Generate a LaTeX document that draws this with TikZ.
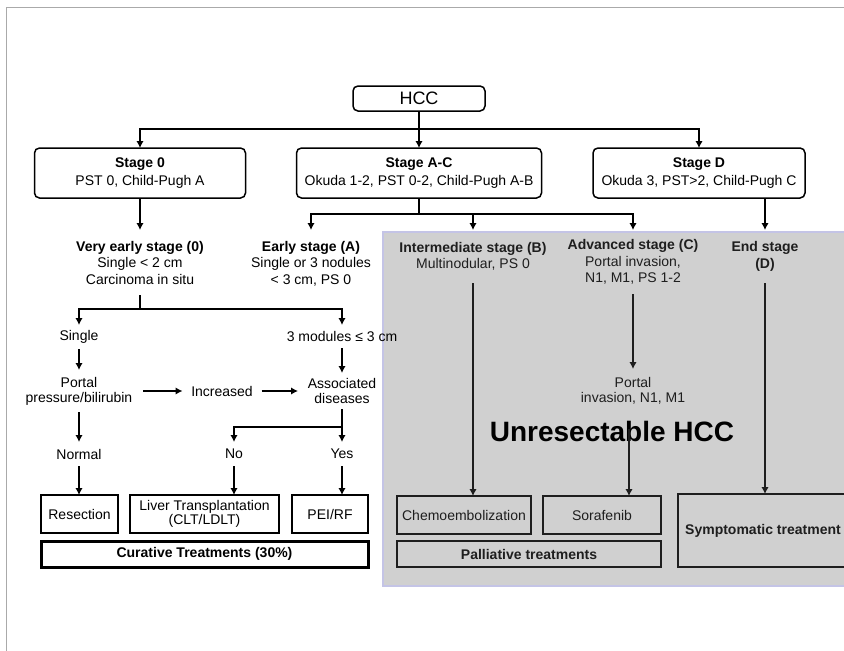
\documentclass[tikz,border=0pt]{standalone}
\usepackage{fontspec}
\setmainfont{Liberation Sans}
\usetikzlibrary{arrows.meta}
\definecolor{areagray}{HTML}{D0D0D0}
\definecolor{areaedge}{HTML}{C4C4E6}
\definecolor{dk}{HTML}{1E1E1E}
\definecolor{framegray}{HTML}{AAAAAA}
\begin{document}
\begin{tikzpicture}[x=1pt,y=-1pt,
  tx/.style={inner sep=0pt, outer sep=0pt, align=center, font=\fontsize{14}{16.5}\selectfont},
  rbox/.style={draw, rounded corners=5pt, line width=1.5pt, inner sep=0pt, outer sep=0pt, align=center, fill=white, font=\fontsize{14}{18}\selectfont},
  wbox/.style={draw, line width=1.5pt, inner sep=0pt, outer sep=0pt, align=center, fill=white, font=\fontsize{14}{14}\selectfont},
  gbox/.style={draw=dk, line width=2pt, inner sep=0pt, outer sep=0pt, align=center, fill=areagray, text=dk, font=\fontsize{14}{14}\selectfont},
  ln/.style={line width=2.4pt},
  arr/.style={line width=2.4pt, -{Latex[length=7pt,width=7.5pt]}},
  darr/.style={arr, draw=dk}
]
\useasboundingbox (0,0) rectangle (844,651);
\fill[white] (0,0) rectangle (844,651);
% frame
\draw[framegray, line width=1pt] (6,651) -- (6,7) -- (844,7);
% grey region
\draw[areaedge, fill=areagray, line width=1.5pt] (383,232) rectangle (860,586);

% top boxes
\node[rbox, minimum width=132pt, minimum height=25pt, font=\fontsize{18}{20}\selectfont] (hcc) at (419,98.5) {HCC};
\node[rbox, minimum width=211pt, minimum height=50pt] (s0) at (140,173) {\textbf{Stage 0}\\PST 0, Child-Pugh A};
\node[rbox, minimum width=245pt, minimum height=50pt] (sac) at (419,173) {\textbf{Stage A-C}\\Okuda 1-2, PST 0-2, Child-Pugh A-B};
\node[rbox, minimum width=212pt, minimum height=50pt] (sd) at (699,173) {\textbf{Stage D}\\Okuda 3, PST>2, Child-Pugh C};

\coordinate (j1) at (419,129);
\draw[ln] (hcc.south) -- (j1);
\draw[arr] (j1) -| (s0.north);
\draw[arr] (j1) -- (sac.north);
\draw[arr] (j1) -| (sd.north);

% stage texts
\node[tx, minimum height=65pt] (vearly) at (140,262.5) {\textbf{Very early stage (0)}\\Single < 2 cm\\Carcinoma in situ};
\node[tx, minimum height=67pt] (early) at (311,263.5) {\textbf{Early stage (A)}\\Single or 3 nodules\\< 3 cm, PS 0};
\node[tx, text=dk, minimum height=53pt] (inter) at (473,256.5) {\textbf{Intermediate stage (B)}\\Multinodular, PS 0};
\node[tx, text=dk, minimum height=64pt] (adv) at (633,262) {\textbf{Advanced stage (C)}\\Portal invasion,\\N1, M1, PS 1-2};
\node[tx, text=dk, minimum height=53pt] (endst) at (765,256.5) {\textbf{End stage}\\\textbf{(D)}};

\coordinate (j2) at (419,214);
\draw[ln] (sac.south) -- (j2);
\draw[arr] (j2) -| (early.north);
\draw[arr] (j2) -| (inter.north);
\draw[arr] (j2) -| (adv.north);
\draw[arr] (sd.south -| endst.north) -- (endst.north);
\draw[arr] (s0.south) -- (vearly.north);

% curative branch
\node[tx, minimum height=24pt] (single) at (79,337) {Single};
\node[tx, minimum height=23pt] (three) at (342,336.5) {3 modules ≤ 3 cm};
\coordinate (j3) at (140,309);
\draw[ln] (vearly.south) -- (j3);
\draw[arr] (j3) -| (single.north);
\draw[arr] (j3) -| (three.north);

\node[tx, minimum height=42pt, minimum width=128pt, font=\fontsize{14}{15}\selectfont] (portal) at (79,391) {Portal\\pressure/bilirubin};
\node[tx, minimum width=79pt] (incr) at (222,391) {Increased};
\node[tx, minimum height=36pt, minimum width=88pt, font=\fontsize{14}{15}\selectfont] (assoc) at (342,391) {Associated\\diseases};
\draw[arr] (single) -- (portal);
\draw[arr] (three) -- (assoc);
\draw[arr] (portal) -- (incr);
\draw[arr] (incr) -- (assoc);

\node[tx, minimum height=24pt] (normal) at (79,454) {Normal};
\node[tx, minimum height=24pt] (no) at (234,454) {No};
\node[tx, minimum height=24pt] (yes) at (342,454) {Yes};
\draw[arr] (portal) -- (normal);
\coordinate (j4) at (342,427);
\draw[ln] (assoc.south) -- (j4);
\draw[arr] (j4) -| (no.north);
\draw[arr] (j4) -- (yes.north);

\node[wbox, minimum width=77pt, minimum height=38pt] (res) at (79.5,514) {Resection};
\node[wbox, minimum width=149pt, minimum height=38pt] (liver) at (204.5,514) {Liver Transplantation\\(CLT/LDLT)};
\node[wbox, minimum width=76pt, minimum height=38pt] (pei) at (330,514) {PEI/RF};
\node[wbox, line width=3pt, minimum width=327pt, minimum height=26pt] (cur) at (204.5,554) {\textbf{Curative Treatments (30\%)}};
\draw[arr] (normal.south) -- (normal.south |- res.north);
\draw[arr] (no.south) -- (no.south |- liver.north);
\draw[arr] (yes.south) -- (yes.south |- pei.north);

% palliative branch
\node[gbox, minimum width=134pt, minimum height=38pt] (chemo) at (464,515) {Chemoembolization};
\node[gbox, minimum width=118pt, minimum height=38pt] (sora) at (602,515) {Sorafenib};
\node[gbox, line width=2.6pt, minimum width=264pt, minimum height=26pt] (pall) at (529,554) {\textbf{Palliative treatments}};
\node[gbox, line width=2.6pt, minimum width=170pt, minimum height=73pt] (sympt) at (763,530.5) {\textbf{Symptomatic treatment}};

\node[tx, text=dk, minimum height=43pt, font=\fontsize{14}{15}\selectfont] (portal2) at (633,390.5) {Portal\\invasion, N1, M1};
\node[inner sep=0pt, font=\fontsize{28}{30}\selectfont\bfseries] (unres) at (612,431) {Unresectable HCC};

\draw[darr] (inter.south) -- (inter.south |- chemo.north);
\draw[darr] (adv.south) -- (portal2.north);
\coordinate (p2s) at (629,429);
\draw[darr] (p2s) -- (p2s |- sora.north);
\draw[darr] (endst.south) -- (endst.south |- sympt.north);
\end{tikzpicture}
\end{document}
